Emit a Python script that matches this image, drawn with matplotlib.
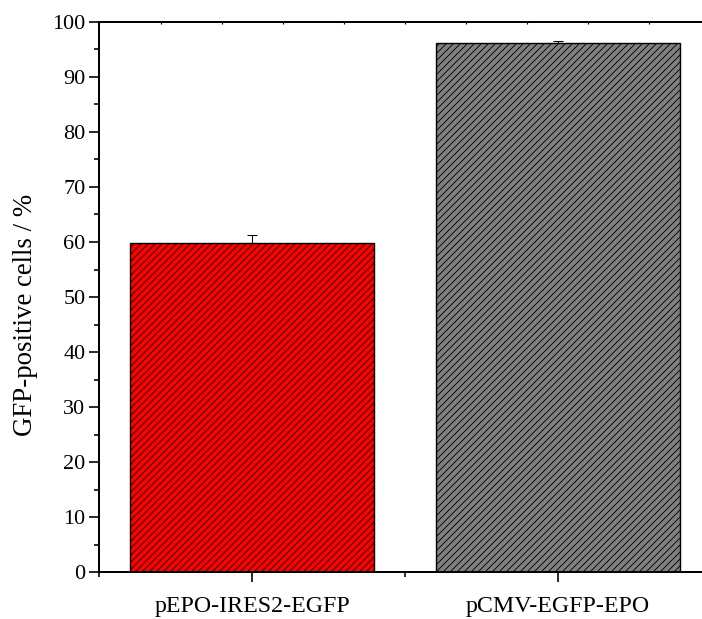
import matplotlib
matplotlib.use("Agg")
import matplotlib.pyplot as plt
import numpy as np

# ---- data ----
categories = ["pEPO-IRES2-EGFP", "pCMV-EGFP-EPO"]
values = [59.9, 96.2]
errors = [1.3, 0.3]
bar_colors = ["#FF0000", "#808080"]
y_ticks = list(range(0, 101, 10))

DPI = 84
W, H = 702, 619
plt.rcParams['font.family'] = ['Liberation Serif', 'DejaVu Serif']
plt.rcParams['hatch.linewidth'] = 0.75
plt.rcParams['hatch.color'] = 'black'

fig = plt.figure(figsize=(W / DPI, H / DPI), dpi=DPI)
left_px, right_px, top_px, bottom_px = 99.5, 710.5, 21.7, 572.4
ax = fig.add_axes([left_px / W, 1 - bottom_px / H,
                   (right_px - left_px) / W, (bottom_px - top_px) / H])

x = np.arange(1, len(categories) + 1)
ax.bar(x, values, width=0.8, color=bar_colors, edgecolor='black',
       linewidth=1.2, hatch='////', zorder=2)
ax.errorbar(x, values, yerr=[np.zeros(len(errors)), errors], fmt='none',
            ecolor='black', elinewidth=0.9, capsize=3.9, capthick=0.9, zorder=3)

ax.set_xlim(0.5, 2.5)
ax.set_ylim(0, 100)
ax.set_xticks(x)
ax.set_xticklabels(categories, fontsize=20.5)
ax.set_xticks([0.5, 1.5, 2.5], minor=True)
ax.set_yticks(y_ticks)
ax.set_yticklabels([str(v) for v in y_ticks], fontsize=19)
ax.set_yticks(np.arange(5, 100, 10), minor=True)

ax.tick_params(axis='both', which='major', direction='out', length=8.5, width=1.4)
ax.tick_params(axis='both', which='minor', direction='out', length=4.3, width=1.4)
ax.tick_params(axis='y', which='major', pad=3.5)
ax.tick_params(axis='x', which='major', pad=12)

for s in ax.spines.values():
    s.set_linewidth(1.7)

sec = ax.secondary_xaxis('top')
sec.set_xticks(np.arange(0.5, 2.51, 0.2))
sec.tick_params(direction='in', length=2.0, width=1.0, labeltop=False)
sec.spines['top'].set_linewidth(1.7)

ax.set_ylabel("GFP-positive cells / %", fontsize=23, va='center')
ax.yaxis.set_label_coords(-0.121, 0.468)

fig.savefig("out.png", dpi=DPI)
